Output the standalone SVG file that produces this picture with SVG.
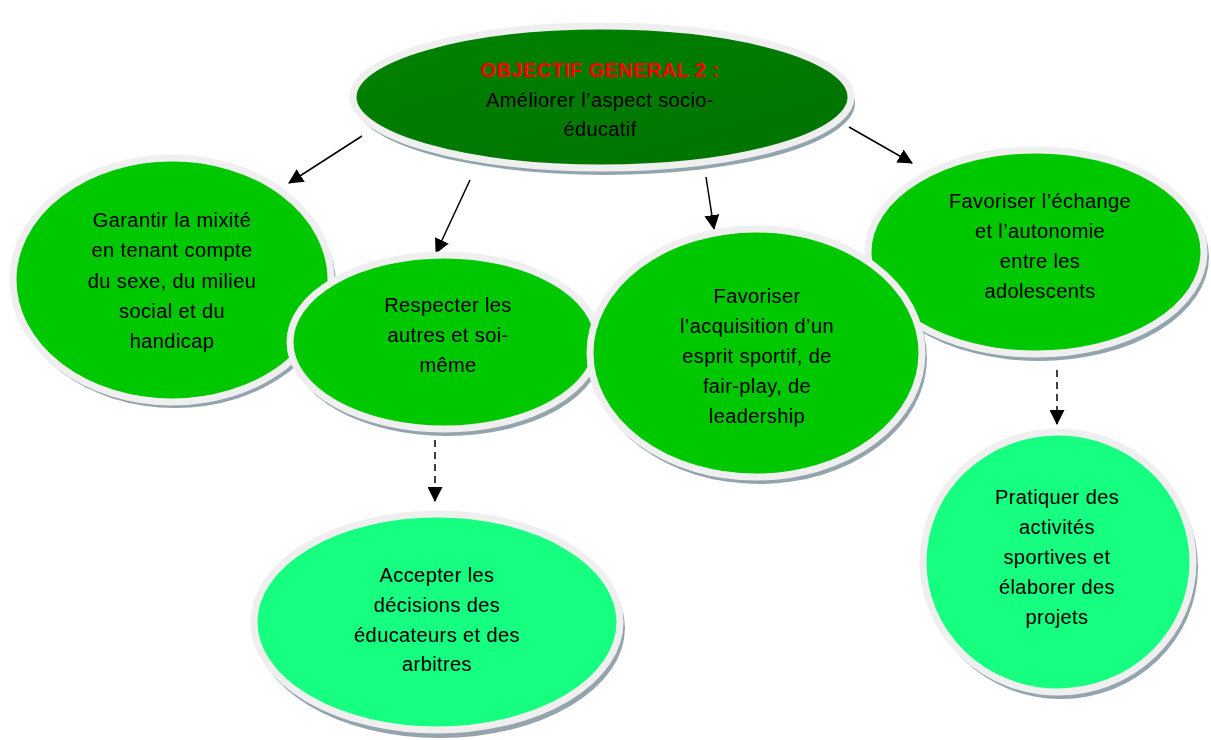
<svg xmlns="http://www.w3.org/2000/svg" width="1211" height="740" viewBox="0 0 1211 740">
<style>
.sh{fill:#93a4ac}
.ring{stroke:#efefef;stroke-width:7}
.g{fill:#00c800}
.lg{fill:#16ff80}
text{font-family:"Comic Sans MS","Liberation Sans","DejaVu Sans",sans-serif;font-size:20px;letter-spacing:0.4px;fill:#000;text-anchor:middle}
.title{fill:#ff0000;font-weight:bold}
.c{stroke:#000;stroke-width:1.5;fill:none}
.d{stroke-dasharray:7 5}
</style>
<defs>
<linearGradient id="tg" x1="0" y1="0" x2="1" y2="1">
<stop offset="0" stop-color="#008300"/>
<stop offset="1" stop-color="#007200"/>
</linearGradient>
<marker id="ah" markerWidth="15" markerHeight="15" viewBox="0 0 14 14" refX="13" refY="7" orient="auto" markerUnits="userSpaceOnUse">
<path d="M0,0 L14,7 L0,14 Z" fill="#000"/>
</marker>
</defs>
<rect width="1211" height="740" fill="#fff"/>
<g id="connectors">
<line class="c" x1="362" y1="136" x2="289" y2="183" marker-end="url(#ah)"/>
<line class="c" x1="470" y1="180" x2="436" y2="253" marker-end="url(#ah)"/>
<line class="c" x1="706" y1="177" x2="714" y2="229" marker-end="url(#ah)"/>
<line class="c" x1="849" y1="127" x2="912" y2="163" marker-end="url(#ah)"/>
<line class="c d" x1="435" y1="440" x2="435" y2="501" marker-end="url(#ah)"/>
<line class="c d" x1="1057" y1="370" x2="1057" y2="424" marker-end="url(#ah)"/>
</g>
<g id="top">
<ellipse class="sh" cx="605" cy="103" rx="250" ry="72"/>
<ellipse class="ring" cx="602" cy="97" rx="249" ry="71" fill="url(#tg)"/>
<text class="title" x="600" y="77">OBJECTIF GENERAL 2 :</text>
<text x="600" y="107">Améliorer l’aspect socio-</text>
<text x="600" y="136">éducatif</text>
</g>
<g id="garantir">
<ellipse class="sh" cx="175" cy="285" rx="161" ry="123"/>
<ellipse class="g ring" cx="172" cy="280" rx="159" ry="122"/>
<text x="172" y="227">Garantir la mixité</text>
<text x="172" y="257">en tenant compte</text>
<text x="172" y="288">du sexe, du milieu</text>
<text x="172" y="318">social et du</text>
<text x="172" y="348">handicap</text>
</g>
<g id="respecter">
<ellipse class="sh" cx="447" cy="347" rx="156" ry="89"/>
<ellipse class="g ring" cx="444" cy="342" rx="154" ry="87"/>
<text x="448" y="312">Respecter les</text>
<text x="448" y="342">autres et soi-</text>
<text x="448" y="372">même</text>
</g>
<g id="echange">
<ellipse class="sh" cx="1039" cy="257" rx="170" ry="104"/>
<ellipse class="g ring" cx="1036" cy="252" rx="168" ry="102"/>
<text x="1040" y="208">Favoriser l’échange</text>
<text x="1040" y="238">et l’autonomie</text>
<text x="1040" y="268">entre les</text>
<text x="1040" y="298">adolescents</text>
</g>
<g id="acquisition">
<ellipse class="sh" cx="759" cy="358" rx="168" ry="126"/>
<ellipse class="g ring" cx="756" cy="353" rx="166" ry="124"/>
<text x="757" y="303">Favoriser</text>
<text x="757" y="333">l’acquisition d’un</text>
<text x="757" y="363">esprit sportif, de</text>
<text x="757" y="393">fair-play, de</text>
<text x="757" y="423">leadership</text>
</g>
<g id="accepter">
<ellipse class="sh" cx="440" cy="628" rx="185" ry="110"/>
<ellipse class="lg ring" cx="437" cy="622" rx="183" ry="108"/>
<text x="437" y="582">Accepter les</text>
<text x="437" y="612">décisions des</text>
<text x="437" y="642">éducateurs et des</text>
<text x="437" y="671">arbitres</text>
</g>
<g id="pratiquer">
<ellipse class="sh" cx="1061" cy="567" rx="137" ry="132"/>
<ellipse class="lg ring" cx="1058" cy="562" rx="135" ry="130"/>
<text x="1057" y="504">Pratiquer des</text>
<text x="1057" y="534">activités</text>
<text x="1057" y="564">sportives et</text>
<text x="1057" y="594">élaborer des</text>
<text x="1057" y="624">projets</text>
</g>
</svg>
